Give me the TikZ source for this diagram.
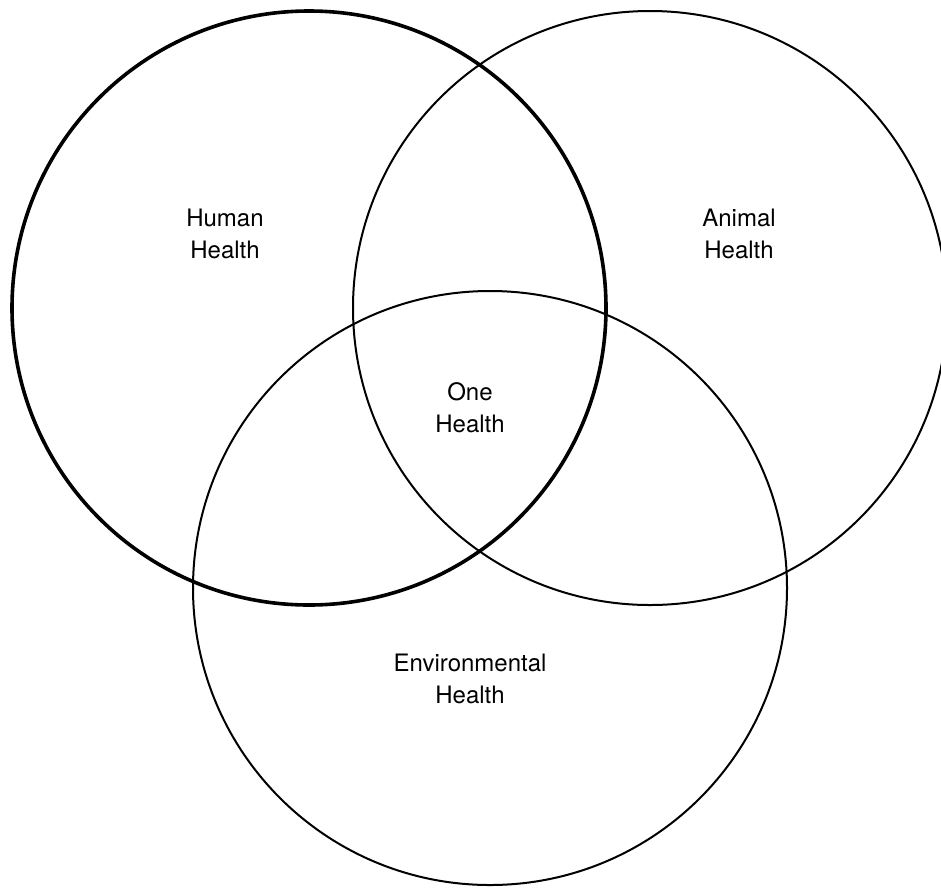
\documentclass[tikz,border=0pt]{standalone}
\usepackage{fontspec}
\setmainfont{TeX Gyre Heros}
\begin{document}
\begin{tikzpicture}[x=1pt,y=-1pt,
  ring/.style={draw=black,line width=2pt},
  thickring/.style={draw=black,line width=3.6pt},
  lbl/.style={align=center,font=\fontsize{24}{32}\selectfont,inner sep=0pt}]
\useasboundingbox (0,0) rectangle (941,887);
\fill[white] (0,0) rectangle (941,887);
\begin{scope}
\clip (0,0) rectangle (941,887);
\draw[ring] (650,308) circle[radius=297];
\draw[ring] (490,588) circle[radius=297];
\draw[thickring] (309,308) circle[radius=297];
\end{scope}
\node[lbl] (human) at (225,234) {Human\\Health};
\node[lbl] (animal) at (739,234) {Animal\\Health};
\node[lbl] (one) at (470,408) {One\\Health};
\node[lbl] (env) at (470,679) {Environmental\\Health};
\end{tikzpicture}
\end{document}
